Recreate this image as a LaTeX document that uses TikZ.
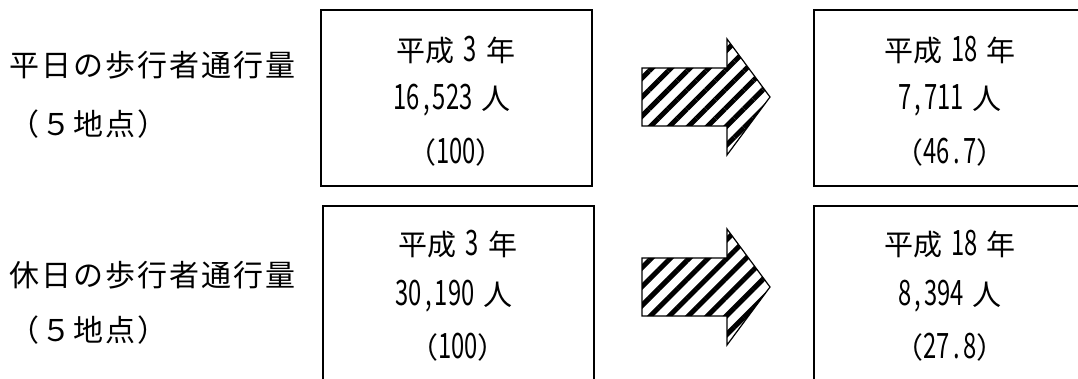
\documentclass[tikz,border=0pt]{standalone}
\usepackage{fontspec}
\setmainfont{Noto Sans CJK JP}
\newfontfamily\dgfont[FakeStretch=0.68,Numbers=Monospaced]{Noto Sans CJK JP}
\newfontfamily\lbfont[LetterSpace=7]{Noto Sans CJK JP}
\usetikzlibrary{patterns.meta}
\newcommand\dg[1]{{\dgfont\fontsize{35}{35}\selectfont #1}}
\newcommand\cma{\makebox[13pt][c]{,}}
\newcommand\dt{\makebox[13pt][c]{.}}
\newcommand\gp{\hspace{9pt}}
\tikzset{
  box/.style={draw, line width=1.3pt, minimum width=271pt, minimum height=176pt, inner sep=0pt},
  txt/.style={inner sep=0pt, font=\fontsize{29}{29}\selectfont},
  lbl/.style={inner sep=0pt, anchor=west, font=\lbfont\fontsize{30}{30}\selectfont},
  hatch/.style={draw, line width=1.2pt, line join=miter,
    pattern={Lines[angle=45,distance=13.4pt,line width=5pt]}},
}
\begin{document}
\begin{tikzpicture}[x=1pt,y=-1pt]
\useasboundingbox (0,0) rectangle (1078,379);
\clip (0,0) rectangle (1078,379);
% labels
\node[lbl] (l1) at (9,65) {平日の歩行者通行量};
\node[lbl] (l2) at (9,124) {（５地点）};
\node[lbl] (l3) at (9,275) {休日の歩行者通行量};
\node[lbl] (l4) at (9,330) {（５地点）};
% boxes
\node[box] (b1) at (456.5,98) {};
\node[box] (b2) at (458.5,294) {};
\node[box] (b3) at (949.5,98) {};
\node[box] (b4) at (949.5,294) {};
% box texts
\node[txt] (a1) at (456,50) {平成\gp\dg{3}\gp 年};
\node[txt] (a2) at (452,100) {\dg{16\cma 523}\gp 人};
\node[txt] (a3) at (456,152) {（\dg{100}）};
\node[txt] (c1) at (458,244) {平成\gp\dg{3}\gp 年};
\node[txt] (c2) at (454,296) {\dg{30\cma 190}\gp 人};
\node[txt] (c3) at (458,347) {（\dg{100}）};
\node[txt] (d1) at (950,50) {平成\gp\dg{18}\gp 年};
\node[txt] (d2) at (950,100) {\dg{7\cma 711}\gp 人};
\node[txt] (d3) at (950,152) {（\dg{46\dt 7}）};
\node[txt] (e1) at (950,244) {平成\gp\dg{18}\gp 年};
\node[txt] (e2) at (950,296) {\dg{8\cma 394}\gp 人};
\node[txt] (e3) at (950,347) {（\dg{27\dt 8}）};
% arrows
\path[hatch] (642,68) -- (727,68) -- (727,39) -- (770,97) -- (727,155) -- (727,126) -- (642,126) -- cycle;
\path[hatch] (642,258) -- (727,258) -- (727,229) -- (770,287) -- (727,345) -- (727,316) -- (642,316) -- cycle;
\end{tikzpicture}
\end{document}
